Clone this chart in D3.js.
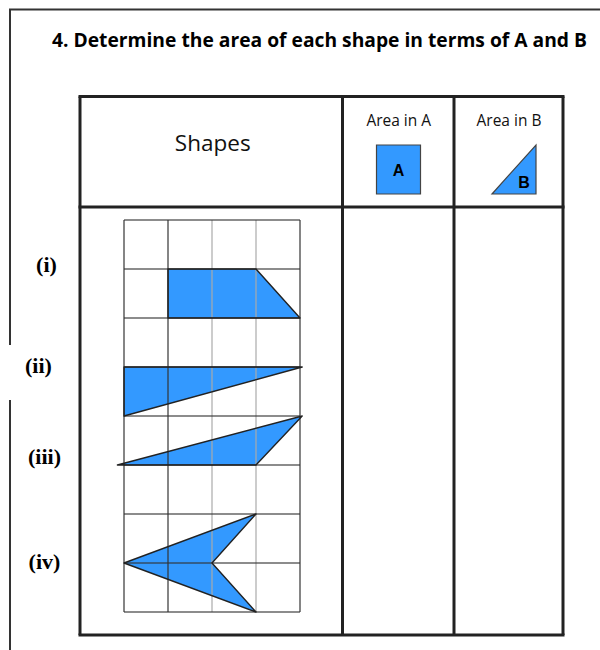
<!DOCTYPE html>
<html>
<head>
<meta charset="utf-8">
<script src="https://cdn.jsdelivr.net/npm/d3@7"></script>
<style>
  body { margin: 0; background: #fff; }
  svg { display: block; }
</style>
</head>
<body>
<svg id="chart"></svg>
<script>
const svgWidth = 600,
    svgHeight = 650;

// question text
const title = "4.  Determine the area of each shape in terms of A and B";
const headers = ["Shapes", "Area in A", "Area in B"];
const unitLabels = ["A", "B"];

// grid size (cells)
const gridCols = 4,
    gridRows = 8;

// row labels and the grid row they sit on
const rowLabels = ["(i)", "(ii)", "(iii)", "(iv)"];
const rowLabelRows = [0.93, 3.0, 4.85, 7.0];

// shapes as [col,row] corners on the grid
const shapeI = [[1,1],[3,1],[4,2],[1,2]];
const shapeII = [[0,3],[4.05,3],[0,4]];
const shapeIII = [[4.05,4],[3,5],[-0.15,5]];
const shapeIV = [[0,7],[3,6],[2,7],[3,8]];
const shapes = [shapeI, shapeII, shapeIII, shapeIV];

// unit shapes, in cell units
const unitSquare = [[0,0],[1,0],[1,1],[0,1]];
const unitTriangle = [[0,1],[1,0],[1,1]];

// which vertical grid lines are light
const lightCols = [2, 3];

const blue = "#3399ff";

const chart = d3.select('#chart')
    .attr("width", svgWidth)
    .attr("height", svgHeight);

// page border (top and left only)
chart.append("path")
    .attr("d", "M10,650 L10,9.5 L600,9.5")
    .attr("fill", "none")
    .attr("stroke", "#333")
    .attr("stroke-width", 2);

chart.append("rect")
    .attr("x", 8).attr("y", 345).attr("width", 5).attr("height", 55)
    .attr("fill", "#fff");

// title, sized to fit its line
const titleText = chart.append("text")
    .attr("x", 52)
    .attr("y", 47)
    .style("font-family", "'Open Sans', sans-serif")
    .style("font-weight", "bold")
    .style("font-size", "20px")
    .attr("fill", "#000")
    .text(title);
const natural = titleText.node().getComputedTextLength();
titleText.style("font-size", (20 * 535 / natural).toFixed(2) + "px");

// table
const colX = [80, 342.5, 454, 563];
const rowY = [96.5, 207, 635];

const table = chart.append("g");
table.selectAll(".vline")
    .data(colX)
    .enter()
    .append("line")
    .attr("x1", d => d).attr("x2", d => d)
    .attr("y1", rowY[0]).attr("y2", rowY[2])
    .attr("stroke", "#222")
    .attr("stroke-width", 3);

table.selectAll(".hline")
    .data(rowY)
    .enter()
    .append("line")
    .attr("x1", colX[0] - 1.5).attr("x2", colX[3] + 1.5)
    .attr("y1", d => d).attr("y2", d => d)
    .attr("stroke", "#222")
    .attr("stroke-width", 3);

// headers
chart.append("text")
    .attr("x", (colX[0] + colX[1]) / 2 + 1.5)
    .attr("y", 151)
    .attr("text-anchor", "middle")
    .style("font-family", "'Open Sans', sans-serif")
    .style("font-size", "22.5px")
    .attr("fill", "#111")
    .text(headers[0]);

chart.selectAll(".hdr")
    .data(headers.slice(1))
    .enter()
    .append("text")
    .attr("x", (d, i) => (colX[i + 1] + colX[i + 2]) / 2 + 0.5)
    .attr("y", 126)
    .attr("text-anchor", "middle")
    .style("font-family", "'Open Sans', sans-serif")
    .style("font-size", "15.5px")
    .attr("fill", "#111")
    .text(d => d);

// grid scales
const xScale = d3.scaleLinear().domain([0, gridCols]).range([124, 300]);
const yScale = d3.scaleLinear().domain([0, gridRows]).range([220, 612]);
const cellW = xScale(1) - xScale(0),
    cellH = yScale(1) - yScale(0);

// unit icons in the header
const icon = d3.line()
    .x(d => d[0] * cellW)
    .y(d => d[1] * cellH);

const iconA = chart.append("g").attr("transform", "translate(376.5,145)");
iconA.append("path")
    .attr("d", icon(unitSquare) + "Z")
    .attr("fill", blue)
    .attr("stroke", "#444")
    .attr("stroke-width", 1.2);
iconA.append("text")
    .attr("x", cellW / 2).attr("y", 31)
    .attr("text-anchor", "middle")
    .style("font-family", "'Liberation Sans', Arial, sans-serif")
    .style("font-weight", "bold")
    .style("font-size", "16px")
    .text(unitLabels[0]);

const iconB = chart.append("g").attr("transform", "translate(492,145)");
iconB.append("path")
    .attr("d", icon(unitTriangle) + "Z")
    .attr("fill", blue)
    .attr("stroke", "#444")
    .attr("stroke-width", 1.2);
iconB.append("text")
    .attr("x", 32).attr("y", 43)
    .attr("text-anchor", "middle")
    .style("font-family", "'Liberation Sans', Arial, sans-serif")
    .style("font-weight", "bold")
    .style("font-size", "16px")
    .text(unitLabels[1]);

// shapes (fill first, grid shows through, outline on top)
const shapeLine = d3.line()
    .x(d => xScale(d[0]))
    .y(d => yScale(d[1]));

chart.append("g").selectAll("path")
    .data(shapes)
    .enter()
    .append("path")
    .attr("d", d => shapeLine(d) + "Z")
    .attr("fill", blue)
    .attr("stroke", "none");

// grid
const grid = chart.append("g").attr("stroke-opacity", 0.75);
grid.selectAll(".gv")
    .data(d3.range(gridCols + 1))
    .enter()
    .append("line")
    .attr("x1", d => xScale(d)).attr("x2", d => xScale(d))
    .attr("y1", yScale(0)).attr("y2", yScale(gridRows))
    .attr("stroke", d => lightCols.includes(d) ? "#aaa" : "#333")
    .attr("stroke-width", 1.6);

grid.selectAll(".gh")
    .data(d3.range(gridRows + 1))
    .enter()
    .append("line")
    .attr("x1", xScale(0)).attr("x2", xScale(gridCols))
    .attr("y1", d => yScale(d)).attr("y2", d => yScale(d))
    .attr("stroke", "#333")
    .attr("stroke-width", 1.6);

chart.append("g").selectAll("path")
    .data(shapes)
    .enter()
    .append("path")
    .attr("d", d => shapeLine(d) + "Z")
    .attr("fill", "none")
    .attr("stroke", "#222")
    .attr("stroke-width", 1.4)
    .attr("stroke-linejoin", "round");

// row labels
chart.append("g").selectAll("text")
    .data(rowLabels)
    .enter()
    .append("text")
    .attr("x", (d, i) => [46.5, 38.5, 44.5, 44.5][i])
    .attr("y", (d, i) => yScale(rowLabelRows[i]) + 6)
    .attr("text-anchor", "middle")
    .style("font-family", "'Liberation Serif', 'Times New Roman', serif")
    .style("font-weight", "bold")
    .style("font-size", "22px")
    .text(d => d);
</script>
</body>
</html>
